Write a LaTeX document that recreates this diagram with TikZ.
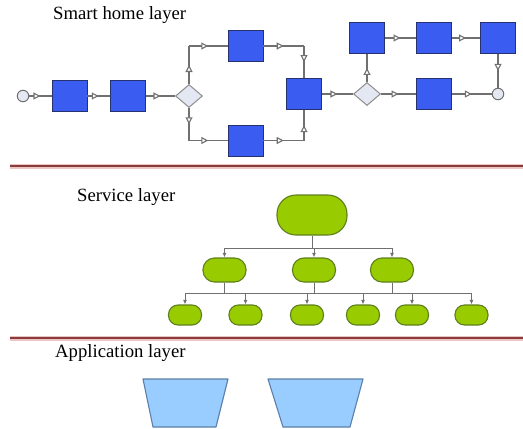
\documentclass[tikz,border=0pt]{standalone}
\usepackage{fontspec}
\setmainfont{Liberation Serif}
\usetikzlibrary{arrows.meta,decorations.markings,shapes.geometric}
\definecolor{boxblue}{HTML}{3A5CF0}
\definecolor{boxedge}{HTML}{26326E}
\definecolor{linegray}{HTML}{707070}
\definecolor{diafill}{HTML}{E4E8F2}
\definecolor{leaf}{HTML}{99CC00}
\definecolor{leafedge}{HTML}{5E7F1E}
\definecolor{trapfill}{HTML}{99CCFF}
\definecolor{trapedge}{HTML}{5B7FA8}
\definecolor{redline}{HTML}{8C3B3B}
\definecolor{redhalo}{HTML}{EBC4C4}
\tikzset{
  blue box/.style={draw=boxedge, fill=boxblue, line width=0.9pt, minimum width=35pt, minimum height=31pt, inner sep=0pt},
  gate/.style={diamond, draw=linegray!80, fill=diafill, line width=1pt, minimum width=27pt, minimum height=23pt, inner sep=0pt, aspect=1.2},
  event/.style={circle, draw=linegray, fill=diafill, line width=1pt, minimum size=11.5pt, inner sep=0pt},
  flow/.style={draw=linegray, line width=1.1pt, postaction={decorate},
    decoration={markings, mark=at position 0.5 with {\arrow{Triangle[length=7pt,width=7pt,fill=white]}}}},
  svc/.style={draw=leafedge, fill=leaf, line width=1.1pt, inner sep=0pt},
  svc root/.style={svc, minimum width=70pt, minimum height=40pt, rounded corners=19pt},
  svc mid/.style={svc, minimum width=43pt, minimum height=24pt, rounded corners=11.5pt},
  svc leaf/.style={svc, minimum width=33pt, minimum height=20pt, rounded corners=9.5pt},
  tree/.style={draw=linegray, line width=0.9pt},
  tree arrow/.style={tree, -{Latex[length=4.5pt,width=4pt]}},
  trap/.style={draw=trapedge, fill=trapfill, line width=1.1pt, line join=round},
  layer title/.style={anchor=west, inner sep=0pt, font=\fontsize{18.7}{22}\selectfont},
}
\begin{document}
\begin{tikzpicture}[x=1pt,y=-1pt]
\useasboundingbox (0,0) rectangle (523,429);
\fill[white] (0,0) rectangle (523,429);

% ---------------- Smart home layer ----------------
\node[layer title] (t1) at (53,15) {Smart home layer};

\node[event] (start) at (23,96) {};
\node[blue box] (b1) at (69.5,96) {};
\node[blue box] (b2) at (128,96) {};
\node[gate] (d1) at (189,96) {};
\node[blue box] (b3) at (245.5,46) {};
\node[blue box] (b4) at (245.5,140.5) {};
\node[blue box] (b5) at (304,94) {};
\node[gate] (d2) at (367,94) {};
\node[blue box] (b6) at (367,38) {};
\node[blue box] (b7) at (434,38) {};
\node[blue box] (b8) at (498,38) {};
\node[blue box] (b9) at (434,94) {};
\node[event] (end) at (498,94) {};

\coordinate (c1) at (d1.north |- b3.west);
\coordinate (c2) at (d1.south |- b4.west);
\coordinate (c3) at (b5.north |- b3.east);
\coordinate (c4) at (b5.south |- b4.east);

\draw[flow] (start) -- (b1);
\draw[flow] (b1) -- (b2);
\draw[flow] (b2) -- (d1);
\draw[flow] (d1.north) -- (c1);
\draw[flow] (c1) -- (b3.west);
\draw[flow] (d1.south) -- (c2);
\draw[flow] (c2) -- (b4.west);
\draw[flow] (b3.east) -- (c3);
\draw[flow] (c3) -- (b5.north);
\draw[flow] (b4.east) -- (c4);
\draw[flow] (c4) -- (b5.south);
\draw[flow] (b5) -- (d2);
\draw[flow] (d2.north) -- (b6.south);
\draw[flow] (b6) -- (b7);
\draw[flow] (b7) -- (b8);
\draw[flow] (b8.south) -- (end.north);
\draw[flow] (d2.east) -- (b9.west);
\draw[flow] (b9.east) -- (end.west);

% ---------------- separator 1 ----------------
\coordinate (s1a) at (10,166);
\coordinate (s1b) at (523,166);
\draw[redhalo, line width=5pt] (s1a) -- (s1b);
\draw[redline, line width=1.8pt] (s1a) -- (s1b);

% ---------------- Service layer ----------------
\node[layer title] (t2) at (77,197) {Service layer};

\node[svc root] (root) at (312,215) {};
\node[svc mid] (m1) at (224.5,270) {};
\node[svc mid] (m2) at (314,270) {};
\node[svc mid] (m3) at (392,270) {};
\node[svc leaf] (l1) at (185,315) {};
\node[svc leaf] (l2) at (245.5,315) {};
\node[svc leaf] (l3) at (307,315) {};
\node[svc leaf] (l4) at (363,315) {};
\node[svc leaf] (l5) at (412,315) {};
\node[svc leaf] (l6) at (471.5,315) {};

\coordinate (bus1) at (312,248);
\coordinate (bus2) at (314,293);

\draw[tree] (root.south) -- (bus1);
\draw[tree] (m1.north |- bus1) -- (m3.north |- bus1);
\draw[tree arrow] (m1.north |- bus1) -- (m1.north);
\draw[tree arrow] (m2.north |- bus1) -- (m2.north);
\draw[tree arrow] (m3.north |- bus1) -- (m3.north);

\draw[tree] (m1.south) -- (m1.south |- bus2);
\draw[tree] (m2.south) -- (m2.south |- bus2);
\draw[tree] (m3.south) -- (m3.south |- bus2);
\draw[tree] (l1.north |- bus2) -- (l6.north |- bus2);
\foreach \n in {l1,l2,l3,l4,l5,l6}
  \draw[tree arrow] (\n.north |- bus2) -- (\n.north);

% ---------------- separator 2 ----------------
\coordinate (s2a) at (10,338);
\coordinate (s2b) at (523,338);
\draw[redhalo, line width=5pt] (s2a) -- (s2b);
\draw[redline, line width=1.8pt] (s2a) -- (s2b);

% ---------------- Application layer ----------------
\node[layer title] (t3) at (55,353) {Application layer};

\draw[trap] (143,379) -- (228,379) -- (216,427) -- (153,427) -- cycle;
\draw[trap] (268,379) -- (363,379) -- (350,427) -- (283,427) -- cycle;
\end{tikzpicture}
\end{document}
